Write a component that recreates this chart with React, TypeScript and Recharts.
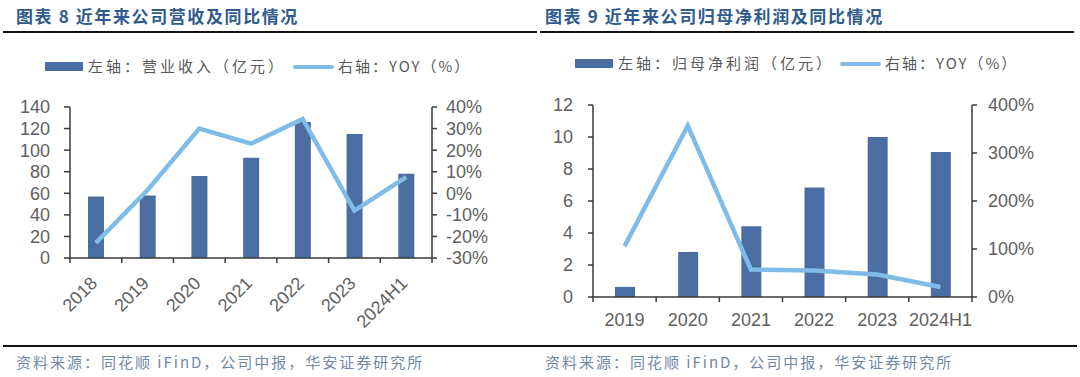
import React from "react";
import {
  ComposedChart,
  Bar,
  Line,
  XAxis,
  YAxis,
} from "recharts";

// 图表8：营业收入
const revYears = ["2018", "2019", "2020", "2021", "2022", "2023", "2024H1"];
const revenue = [57, 58, 76, 93, 126, 115, 78];
const revYoy = [-23, 1.5, 30, 23, 34.5, -8, 7.5];
const revLeftTicks = [0, 20, 40, 60, 80, 100, 120, 140];
const revRightTicks = [-30, -20, -10, 0, 10, 20, 30, 40];

// 图表9：归母净利润
const profitYears = ["2019", "2020", "2021", "2022", "2023", "2024H1"];
const profit = [0.63, 2.82, 4.42, 6.85, 10.0, 9.07];
const profitYoy = [106, 357, 57, 55, 47, 21];
const profitLeftTicks = [0, 2, 4, 6, 8, 10, 12];
const profitRightTicks = [0, 100, 200, 300, 400];

const revData = revYears.map((year, i) => ({ year, value: revenue[i], yoy: revYoy[i] }));
const profitData = profitYears.map((year, i) => ({ year, value: profit[i], yoy: profitYoy[i] }));

const BAR = "#4a6ea1";
const LINE = "#7fbce8";
const AXIS = "#3a3a3a";
const TICK = "#606060";
const TITLE = "#2f5b8d";
const NUM_FONT = "'Liberation Sans Narrow', 'Liberation Sans', Arial, sans-serif";
const CJK_FONT = "'Noto Sans CJK SC', 'Noto Sans', sans-serif";

const tickStyle = { fill: TICK, fontSize: 18, fontFamily: NUM_FONT };

function makeXTick(band: number, count: number, rotated: boolean) {
  return (props: any) => {
    const { x, y, payload, index } = props;
    const half = band / 2;
    const ax = x - 2;
    const ay = y + 22;
    return (
      <g>
        <line x1={x - half} x2={x - half} y1={y} y2={y + 5} stroke={AXIS} strokeWidth={1.5} />
        {index === count - 1 && (
          <line x1={x + half} x2={x + half} y1={y} y2={y + 5} stroke={AXIS} strokeWidth={1.5} />
        )}
        {rotated ? (
          <text
            x={ax}
            y={ay}
            textAnchor="end"
            transform={`rotate(-45, ${ax}, ${ay})`}
            fill={TICK}
            fontSize={18}
            fontFamily={NUM_FONT}
            dy="0.35em"
          >
            {payload.value}
          </text>
        ) : (
          <text x={x} y={y + 23} textAnchor="middle" fill={TICK} fontSize={18} fontFamily={NUM_FONT} dy="0.35em">
            {payload.value}
          </text>
        )}
      </g>
    );
  };
}

function Legend({ label, top, left, lineLeft }: { label: string; top: number; left: number; lineLeft: number }) {
  const text = { position: "absolute" as const, fontFamily: CJK_FONT, fontSize: 15, color: "#595959", letterSpacing: 3, whiteSpace: "nowrap" as const, lineHeight: "20px" };
  return (
    <>
      <div style={{ position: "absolute", left, top: top - 5, width: 38, height: 9, background: BAR }} />
      <div style={{ ...text, left: left + 43, top: top - 11 }}>{label}</div>
      <div style={{ position: "absolute", left: lineLeft, top: top - 2, width: 41, height: 4, background: LINE, borderRadius: 2 }} />
      <div style={{ ...text, left: lineLeft + 45, top: top - 11, letterSpacing: 2 }}>右轴：YOY（%）</div>
    </>
  );
}

const titleStyle = {
  position: "absolute" as const,
  fontFamily: CJK_FONT,
  fontWeight: 700,
  fontSize: 17,
  letterSpacing: 1.6,
  color: TITLE,
  whiteSpace: "nowrap" as const,
  lineHeight: "20px",
};

const footStyle = {
  position: "absolute" as const,
  fontFamily: CJK_FONT,
  fontSize: 15,
  letterSpacing: 2,
  color: "#6f88a8",
  whiteSpace: "nowrap" as const,
  lineHeight: "20px",
};

export default function App() {
  return (
    <div style={{ position: "absolute", left: 0, top: 0, width: 1080, height: 377, background: "#fff", overflow: "hidden" }}>
      <div style={{ ...titleStyle, left: 16, top: 6 }}>图表 8 近年来公司营收及同比情况</div>
      <div style={{ ...titleStyle, left: 545, top: 6 }}>图表 9 近年来公司归母净利润及同比情况</div>
      <div style={{ position: "absolute", left: 3, top: 31, width: 534, height: 2, background: "#111" }} />
      <div style={{ position: "absolute", left: 540, top: 31, width: 534, height: 2, background: "#111" }} />

      <Legend label="左轴：营业收入（亿元）" top={67} left={45} lineLeft={293} />
      <Legend label="左轴：归母净利润（亿元）" top={64} left={575} lineLeft={840} />

      <div style={{ position: "absolute", left: 0, top: 90 }}>
        <ComposedChart width={540} height={250} data={revData} margin={{ top: 17, right: 0, left: 0, bottom: 0 }}>
          <XAxis
            dataKey="year"
            height={82}
            axisLine={{ stroke: AXIS, strokeWidth: 1.5 }}
            tickLine={false}
            tickSize={0}
            tickMargin={0}
            interval={0}
            tick={makeXTick(362 / 7, 7, true)}
          />
          <YAxis
            yAxisId="l"
            width={70}
            domain={[0, 140]}
            ticks={revLeftTicks}
            interval={0}
            axisLine={{ stroke: AXIS, strokeWidth: 1.5 }}
            tickLine={{ stroke: AXIS, strokeWidth: 1.5 }}
            tickSize={6}
            tickMargin={14}
            tick={tickStyle}
          />
          <YAxis
            yAxisId="r"
            orientation="right"
            width={108}
            domain={[-30, 40]}
            ticks={revRightTicks}
            interval={0}
            axisLine={{ stroke: AXIS, strokeWidth: 1.5 }}
            tickLine={{ stroke: AXIS, strokeWidth: 1.5 }}
            tickSize={5}
            tickMargin={9}
            tick={{ ...tickStyle, textAnchor: "start" }}
            tickFormatter={(v: number) => `${v}%`}
          />
          <Bar yAxisId="l" dataKey="value" fill={BAR} barSize={16} isAnimationActive={false} />
          <Line yAxisId="r" type="linear" dataKey="yoy" stroke={LINE} strokeWidth={4.5} dot={false} isAnimationActive={false} />
        </ComposedChart>
      </div>

      <div style={{ position: "absolute", left: 540, top: 90 }}>
        <ComposedChart width={540} height={250} data={profitData} margin={{ top: 15, right: 0, left: 0, bottom: 0 }}>
          <XAxis
            dataKey="year"
            height={43}
            axisLine={{ stroke: AXIS, strokeWidth: 1.5 }}
            tickLine={false}
            tickSize={0}
            tickMargin={0}
            interval={0}
            tick={makeXTick(379 / 6, 6, false)}
          />
          <YAxis
            yAxisId="l"
            width={53}
            domain={[0, 12]}
            ticks={profitLeftTicks}
            interval={0}
            axisLine={{ stroke: AXIS, strokeWidth: 1.5 }}
            tickLine={{ stroke: AXIS, strokeWidth: 1.5 }}
            tickSize={5}
            tickMargin={15}
            tick={tickStyle}
          />
          <YAxis
            yAxisId="r"
            orientation="right"
            width={108}
            domain={[0, 400]}
            ticks={profitRightTicks}
            interval={0}
            axisLine={{ stroke: AXIS, strokeWidth: 1.5 }}
            tickLine={{ stroke: AXIS, strokeWidth: 1.5 }}
            tickSize={5}
            tickMargin={11}
            tick={{ ...tickStyle, textAnchor: "start" }}
            tickFormatter={(v: number) => `${v}%`}
          />
          <Bar yAxisId="l" dataKey="value" fill={BAR} barSize={20} isAnimationActive={false} />
          <Line yAxisId="r" type="linear" dataKey="yoy" stroke={LINE} strokeWidth={4.5} dot={false} isAnimationActive={false} />
        </ComposedChart>
      </div>

      <div style={{ position: "absolute", left: 3, top: 345, width: 1074, height: 2, background: "#111" }} />
      <div style={{ ...footStyle, left: 16, top: 352 }}>资料来源：同花顺 iFinD，公司中报，华安证券研究所</div>
      <div style={{ ...footStyle, left: 545, top: 352 }}>资料来源：同花顺 iFinD，公司中报，华安证券研究所</div>
    </div>
  );
}
